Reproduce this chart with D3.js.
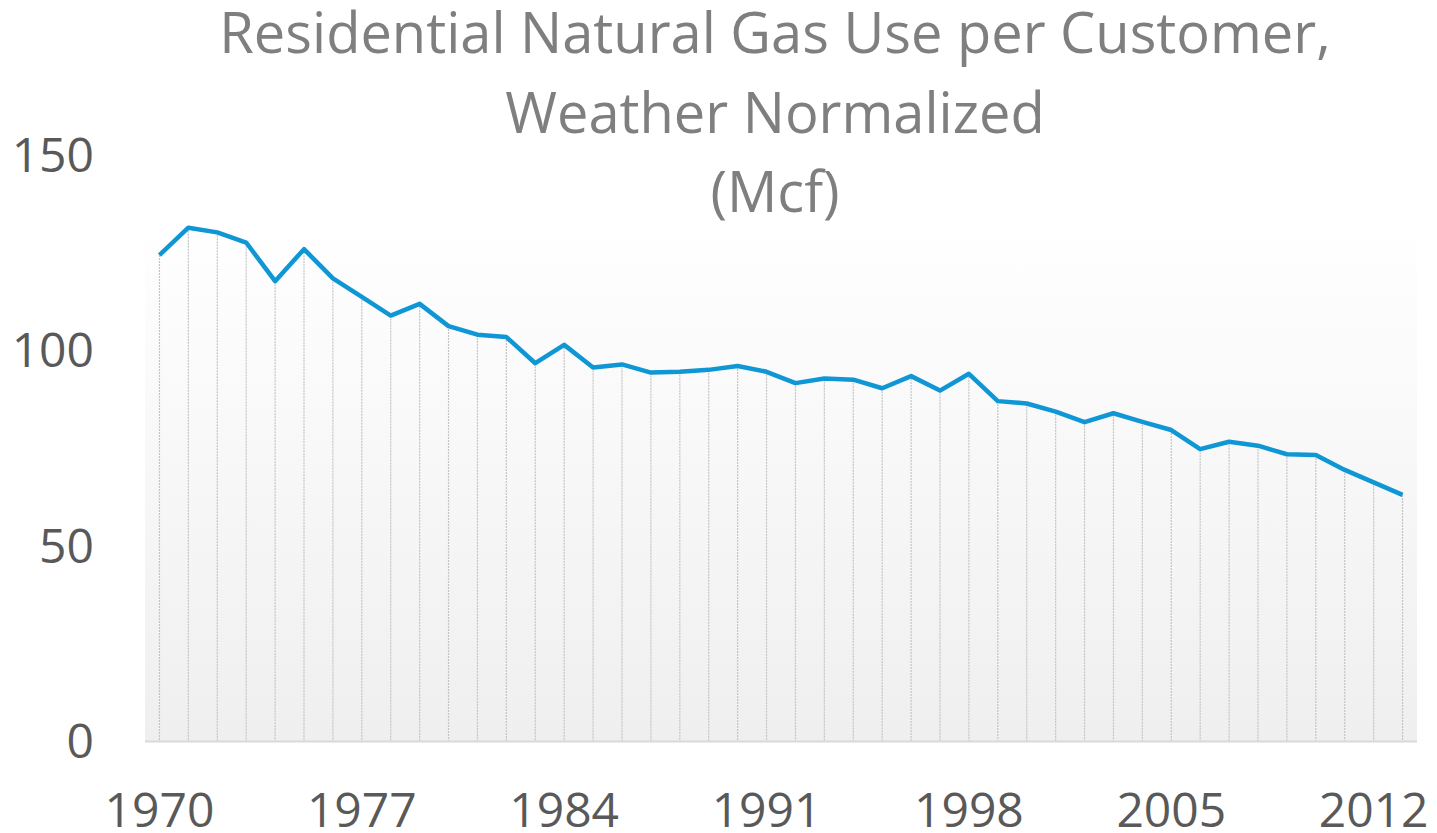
<!DOCTYPE html>
<html>
<head>
<meta charset="utf-8">
<script src="https://cdn.jsdelivr.net/npm/d3@7"></script>
<style>
  body { margin: 0; background: #fff; }
  svg text { font-family: "Open Sans", "Noto Sans", sans-serif; }
</style>
</head>
<body>
<div id="chart"></div>
<script>
var years = d3.range(1970, 2014);
var usage = [124.4, 131.4, 130.2, 127.6, 117.7, 125.9, 118.4, 113.7, 108.9, 111.9,
	106.2, 104.0, 103.4, 96.7, 101.4, 95.6, 96.4, 94.3, 94.5, 95.0,
	96.0, 94.5, 91.6, 92.8, 92.5, 90.3, 93.4, 89.7, 94.0, 87.0,
	86.4, 84.3, 81.6, 83.9, 81.7, 79.6, 74.7, 76.6, 75.6, 73.4,
	73.2, 69.4, 66.2, 63.0];
var yTicks = [0, 50, 100, 150];
var xTickYears = [1970, 1977, 1984, 1991, 1998, 2005, 2012];
var titleLines = ["Residential Natural Gas Use per Customer,", "Weather Normalized", "(Mcf)"];

var width = 1437, height = 833;
var plotLeft = 145, plotRight = 1417, plotTop = 155, plotBottom = 741;

var svg = d3.select("#chart").append("svg")
	.attr("width", width)
	.attr("height", height);

var x = d3.scalePoint()
	.domain(years)
	.range([plotLeft, plotRight])
	.padding(0.5);

var y = d3.scaleLinear()
	.domain([0, 150])
	.range([plotBottom, plotTop]);

// plot area background
var grad = svg.append("defs").append("linearGradient")
	.attr("id", "bg")
	.attr("x1", 0).attr("y1", 0)
	.attr("x2", 0).attr("y2", 1);
grad.append("stop").attr("offset", 0).attr("stop-color", "#ffffff");
grad.append("stop").attr("offset", 1).attr("stop-color", "#efefef");

svg.append("rect")
	.attr("x", plotLeft)
	.attr("y", 222)
	.attr("width", plotRight - plotLeft)
	.attr("height", plotBottom - 222)
	.attr("fill", "url(#bg)");

// drop lines
svg.append("g").selectAll("line")
	.data(years)
	.enter().append("line")
	.attr("x1", function(d) { return x(d); })
	.attr("x2", function(d) { return x(d); })
	.attr("y1", function(d, i) { return y(usage[i]); })
	.attr("y2", plotBottom)
	.style("stroke", "#c4c4c4")
	.style("stroke-width", 1.2)
	.style("stroke-dasharray", "2,1");

// x axis line
svg.append("line")
	.attr("x1", plotLeft).attr("x2", plotRight)
	.attr("y1", plotBottom + 0.5).attr("y2", plotBottom + 0.5)
	.style("stroke", "#d9d9d9")
	.style("stroke-width", 2);

// series line
var line = d3.line()
	.x(function(d, i) { return x(years[i]); })
	.y(function(d) { return y(d); });

svg.append("path")
	.datum(usage)
	.attr("d", line)
	.style("fill", "none")
	.style("stroke", "#0f96d4")
	.style("stroke-width", 4.5)
	.style("stroke-linejoin", "round");

// y tick labels
svg.append("g").selectAll("text")
	.data(yTicks)
	.enter().append("text")
	.attr("x", 94)
	.attr("y", function(d) { return y(d) + 17; })
	.attr("text-anchor", "end")
	.style("font-size", "48px")
	.style("fill", "#595959")
	.text(function(d) { return d; });

// x tick labels
svg.append("g").selectAll("text")
	.data(xTickYears)
	.enter().append("text")
	.attr("x", function(d) { return x(d); })
	.attr("y", 827)
	.attr("text-anchor", "middle")
	.style("font-size", "48px")
	.style("fill", "#595959")
	.text(function(d) { return d; });

// title
svg.append("g").selectAll("text")
	.data(titleLines)
	.enter().append("text")
	.attr("x", 775)
	.attr("y", function(d, i) { return 53 + i * 79.5; })
	.attr("text-anchor", "middle")
	.style("font-size", "56px")
	.style("fill", "#7f7f7f")
	.text(function(d) { return d; });
</script>
</body>
</html>
